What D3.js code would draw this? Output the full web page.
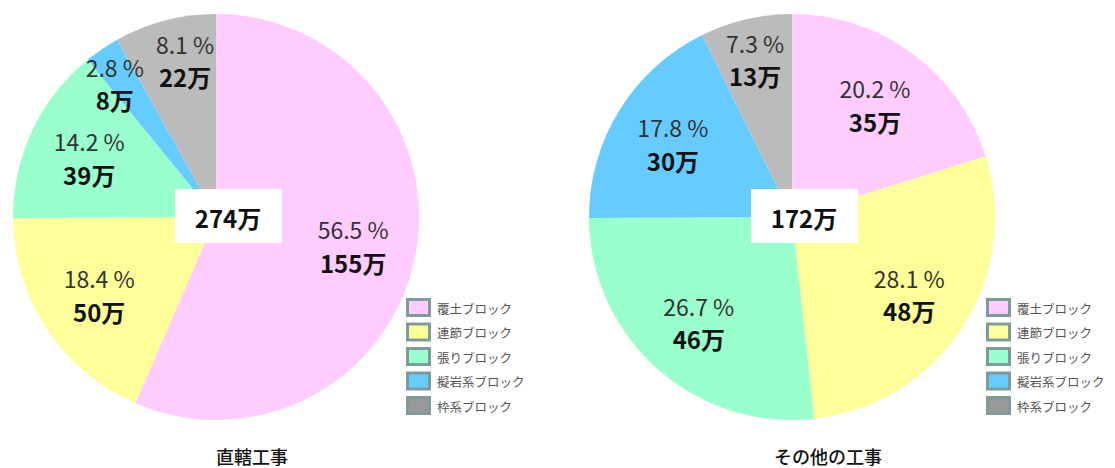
<!DOCTYPE html>
<html>
<head>
<meta charset="utf-8">
<script src="https://cdn.jsdelivr.net/npm/d3@7"></script>
<style>
  body { margin: 0; background: #fff; }
  svg { font-family: "Noto Sans CJK JP", "Noto Sans", sans-serif; }
</style>
</head>
<body>
<svg id="chart"></svg>
<script>
// Data
const categories = ["覆土ブロック", "連節ブロック", "張りブロック", "擬岩系ブロック", "枠系ブロック"];
const colors = ["#FFCCFF", "#FFFF99", "#99FFCC", "#66CCFF", "#BBBBBB"];
const legendColors = ["#FFCCFF", "#FFFF99", "#99FFCC", "#66CCFF", "#999999"];

const directPct = [56.5, 18.4, 14.2, 2.8, 8.1];
const directVals = [155, 50, 39, 8, 22];
const directTotal = 274;

const otherPct = [20.2, 28.1, 26.7, 17.8, 7.3];
const otherVals = [35, 48, 46, 30, 13];
const otherTotal = 172;

const titles = ["直轄工事", "その他の工事"];

const W = 1115, H = 468;
const svg = d3.select("#chart").attr("width", W).attr("height", H);

const R = 203;

function drawPie(cx, cy, pcts, vals, total, title, legendX) {
    const data = categories.map((c, i) => ({ cat: c, pct: pcts[i], val: vals[i], color: colors[i] }));
    const pie = d3.pie().sort(null).value(d => d.pct);
    const arcs = pie(data);
    const arc = d3.arc().innerRadius(0).outerRadius(R);

    const g = svg.append("g").attr("transform", `translate(${cx},${cy})`);

    g.selectAll("path.slice")
        .data(arcs)
        .enter()
        .append("path")
        .attr("class", "slice")
        .attr("d", arc)
        .attr("fill", d => d.data.color);

    // label anchor points: small slices pushed out a bit
    arcs.forEach(d => {
        const r = d.data.pct < 10 ? R * 0.8 : R * 0.69;
        const c = d3.arc().innerRadius(r).outerRadius(r).centroid(d);
        d.lx = c[0];
        d.ly = c[1];
    });

    const labels = g.selectAll("g.lbl")
        .data(arcs)
        .enter()
        .append("g")
        .attr("class", "lbl");

    labels.append("text")
        .attr("y", -16)
        .attr("text-anchor", "middle")
        .attr("dominant-baseline", "central")
        .style("font-size", "23px")
        .style("fill", "#333")
        .text(d => `${d.data.pct.toFixed(1)} %`);

    labels.append("text")
        .attr("y", 17)
        .attr("text-anchor", "middle")
        .attr("dominant-baseline", "central")
        .style("font-size", "24px")
        .style("font-weight", "bold")
        .style("fill", "#111")
        .text(d => `${d.data.val}万`);

    // push neighbouring labels apart sideways if they collide
    labels.each(function (d) { d.lw = this.getBBox().width; });
    for (let i = 0; i < arcs.length; i++) {
        const a = arcs[i], b = arcs[(i + 1) % arcs.length];
        if (Math.abs(a.ly - b.ly) > 55) continue;
        const need = (a.lw + b.lw) / 2 + 12;
        const gap = Math.abs(a.lx - b.lx);
        if (gap < need) {
            const s = (need - gap) / 2;
            if (a.lx < b.lx) { a.lx -= s; b.lx += s; } else { a.lx += s; b.lx -= s; }
        }
    }
    labels.attr("transform", d => `translate(${d.lx},${d.ly})`);

    // total box in the middle
    g.append("rect")
        .attr("x", -41)
        .attr("y", -28)
        .attr("width", 107)
        .attr("height", 54)
        .attr("fill", "#fff");

    g.append("text")
        .attr("x", 12)
        .attr("y", 0)
        .attr("text-anchor", "middle")
        .attr("dominant-baseline", "central")
        .style("font-size", "24px")
        .style("font-weight", "bold")
        .style("fill", "#111")
        .text(`${total}万`);

    // title under pie
    svg.append("text")
        .attr("x", cx + 36)
        .attr("y", 456)
        .attr("text-anchor", "middle")
        .attr("dominant-baseline", "central")
        .style("font-size", "18px")
        .style("font-weight", "500")
        .style("fill", "#111")
        .text(title);

    // legend
    const lg = svg.append("g").attr("transform", `translate(${legendX},298)`);
    const items = lg.selectAll("g")
        .data(categories)
        .enter()
        .append("g")
        .attr("transform", (d, i) => `translate(0,${i * 24.5})`);

    items.append("rect")
        .attr("x", 1.5)
        .attr("y", 1.5)
        .attr("width", 22)
        .attr("height", 16)
        .attr("fill", (d, i) => legendColors[i])
        .attr("stroke", "#7F9A9A")
        .attr("stroke-width", 3);

    items.append("text")
        .attr("x", 31)
        .attr("y", 10)
        .attr("dominant-baseline", "central")
        .style("font-size", "12.5px")
        .style("fill", "#555")
        .text(d => d);
}

drawPie(216, 217, directPct, directVals, directTotal, titles[0], 406);
drawPie(792, 217, otherPct, otherVals, otherTotal, titles[1], 986);
</script>
</body>
</html>
